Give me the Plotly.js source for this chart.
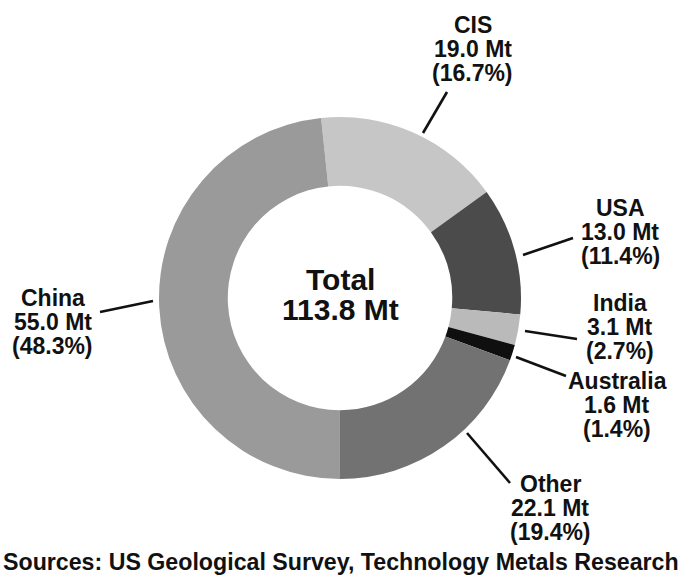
<!DOCTYPE html>
<html>
<head>
<meta charset="utf-8">
<script src="https://cdn.plot.ly/plotly-3.0.1.min.js"></script>
<style>html,body{margin:0;padding:0;background:#fff;}#chart{width:681px;height:588px;}</style>
</head>
<body>
<div id="chart"></div>
<script>
// ---- data ----
var regions = ["CIS", "USA", "India", "Australia", "Other", "China"];
var reserves = [19.0, 13.0, 3.1, 1.6, 22.1, 55.0];     // Mt
var shares = [16.7, 11.4, 2.7, 1.4, 19.4, 48.3];        // %
var totalLabel = ["Total", "113.8 Mt"];
var sourceText = "Sources: US Geological Survey, Technology Metals Research";

// ---- styles / layout positions (pixels) ----
var colors = ["#c6c6c6", "#4b4b4b", "#bababa", "#0f0f0f", "#727272", "#9a9a9a"];
var labelPos = [[473, 25], [620, 208], [620, 303], [617, 381], [550, 484], [53, 298]];
var leaderPos = [
  [447, 92, 423, 133],
  [573, 238, 523, 255],
  [577, 339, 525, 331],
  [566, 376, 516, 357],
  [510, 483, 467, 433],
  [100, 312, 153, 301]
];
var W = 681, H = 588;
function px(x) { return x / W; }
function py(y) { return 1 - y / H; }
var FONT = "Liberation Sans, Arial, Helvetica, sans-serif";
var INK = "#111111";

var annotations = [];
var shapes = [];
for (var i = 0; i < regions.length; i++) {
  var lines = [regions[i], reserves[i].toFixed(1) + " Mt", "(" + shares[i].toFixed(1) + "%)"];
  for (var j = 0; j < lines.length; j++) {
    annotations.push({
      xref: "paper", yref: "paper",
      x: px(labelPos[i][0]), y: py(labelPos[i][1] + j * 24),
      xanchor: "center", yanchor: "middle",
      text: "<b>" + lines[j] + "</b>", showarrow: false,
      font: {family: FONT, size: 23, color: INK}
    });
  }
  var L = leaderPos[i];
  shapes.push({
    type: "line", xref: "paper", yref: "paper",
    x0: px(L[0]), y0: py(L[1]), x1: px(L[2]), y1: py(L[3]),
    line: {color: INK, width: 2.6}
  });
}
// centre text
for (var k = 0; k < totalLabel.length; k++) {
  annotations.push({
    xref: "paper", yref: "paper",
    x: px(340), y: py(279 + k * 30),
    xanchor: "center", yanchor: "middle",
    text: "<b>" + totalLabel[k] + "</b>", showarrow: false,
    font: {family: FONT, size: 30, color: INK}
  });
}
// source line
annotations.push({
  xref: "paper", yref: "paper",
  x: px(340.5), y: py(562),
  xanchor: "center", yanchor: "middle",
  text: "<b>" + sourceText + "</b>", showarrow: false,
  font: {family: FONT, size: 23.2, color: INK}
});

var cx = 340, cy = 298, R = 181;
var trace = {
  type: "pie",
  labels: regions,
  values: reserves,
  hole: 0.62,
  sort: false,
  direction: "clockwise",
  rotation: -6,
  textinfo: "none",
  hoverinfo: "none",
  marker: {colors: colors, line: {width: 0}},
  domain: {x: [px(cx - R), px(cx + R)], y: [py(cy + R), py(cy - R)]}
};

var layout = {
  width: W, height: H,
  margin: {l: 0, r: 0, t: 0, b: 0},
  paper_bgcolor: "#ffffff",
  showlegend: false,
  annotations: annotations,
  shapes: shapes
};

Plotly.newPlot("chart", [trace], layout, {displayModeBar: false, staticPlot: true});
</script>
</body>
</html>
